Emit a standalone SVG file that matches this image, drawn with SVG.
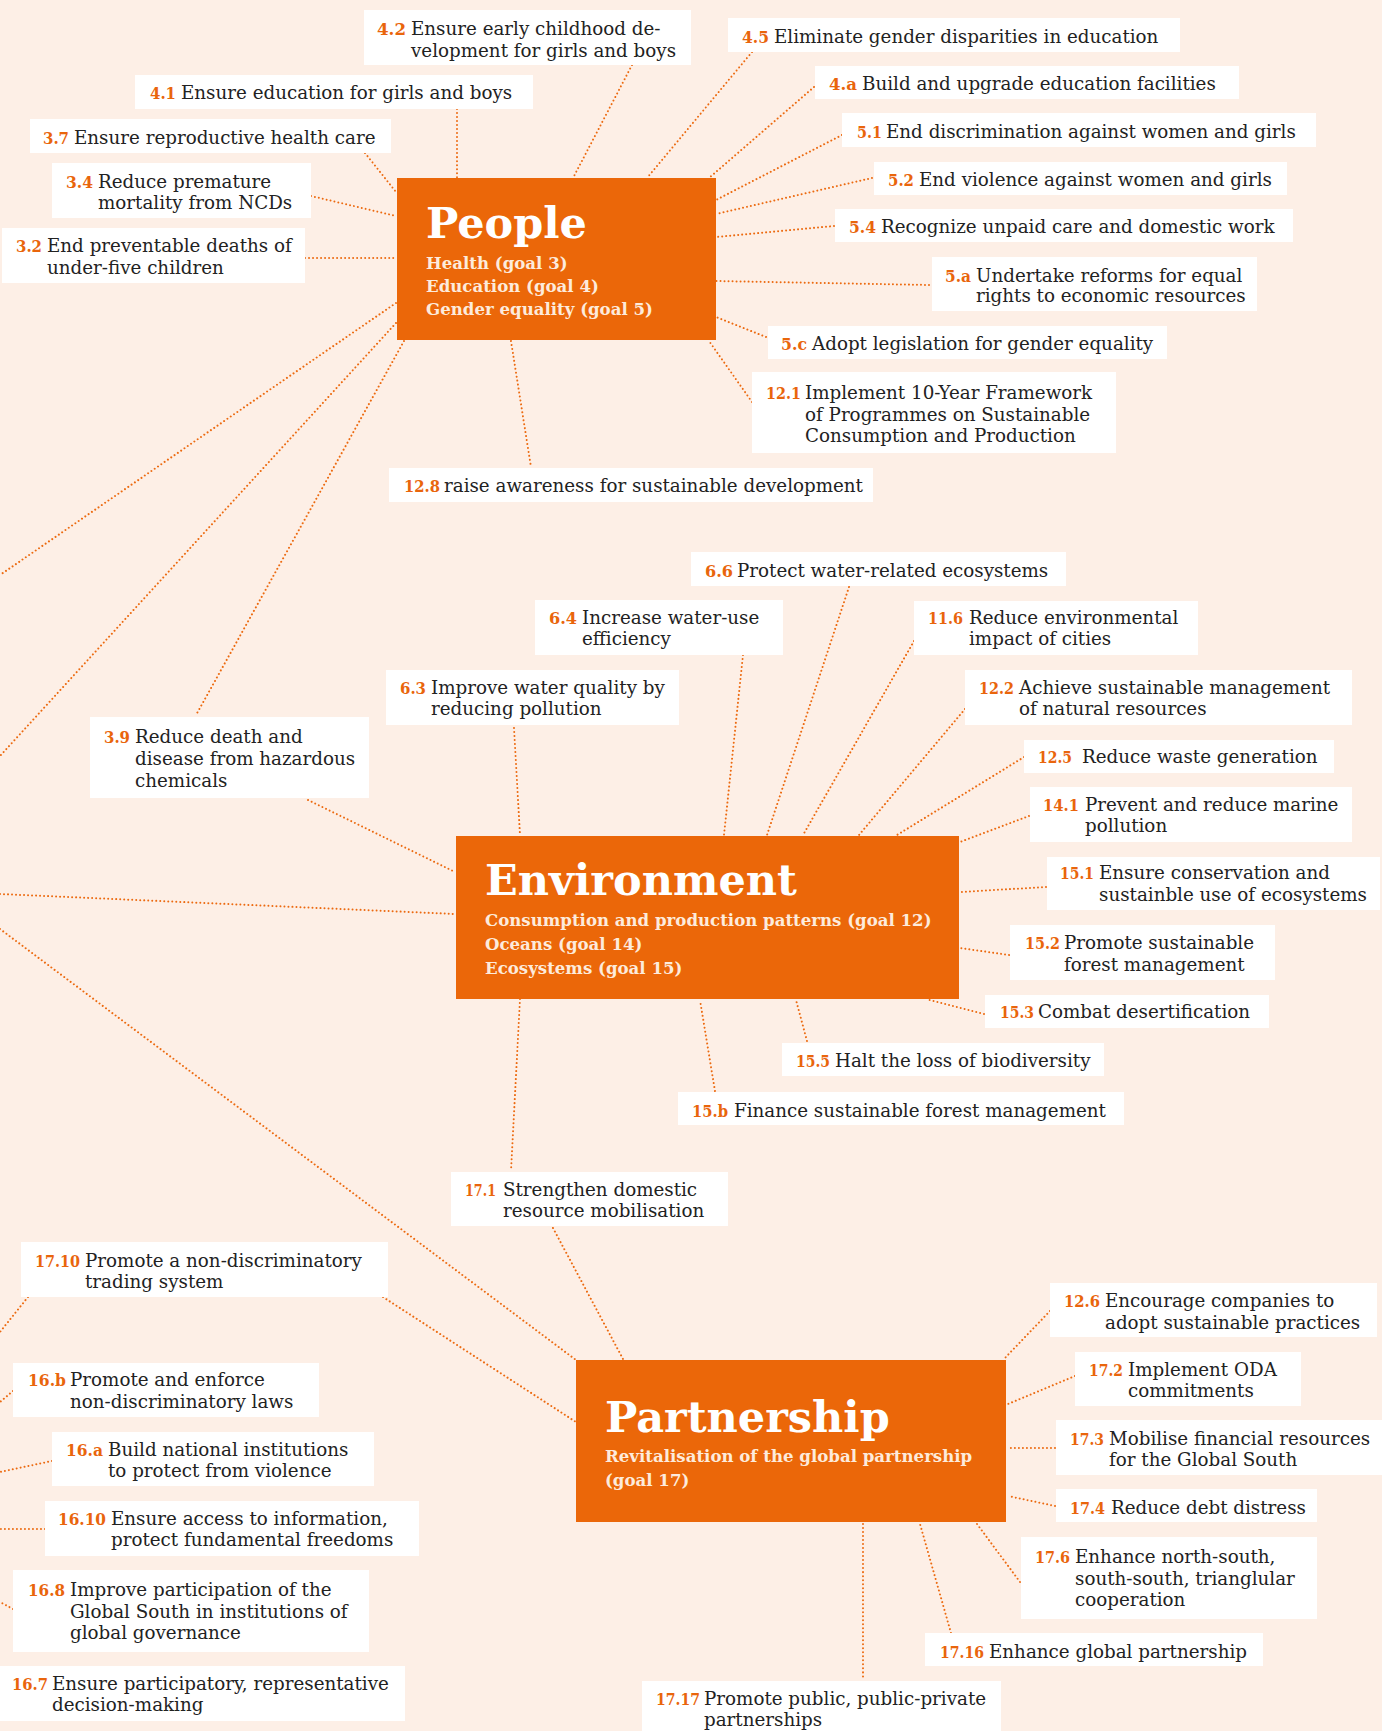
<svg xmlns="http://www.w3.org/2000/svg" width="1382" height="1731" viewBox="0 0 1382 1731">
<style>
.bg{fill:#FDEFE6}
.box{fill:#FFFFFF}
.hub{fill:#EB6709}
text{font-family:"DejaVu Serif","Liberation Serif",serif}
.t{font-size:18.3px;fill:#222222}
.n{font-size:17px;font-weight:bold;fill:#E9650C}
.title{font-size:43px;font-weight:bold;fill:#FFFFFF}
.sub{font-size:16.6px;font-weight:bold;fill:#FDEBDC}
.c line{stroke:#EC6A10;stroke-width:2;stroke-dasharray:0.01 4;stroke-linecap:round;fill:none}
</style>
<rect class="bg" x="0" y="0" width="1382" height="1731"/>

<g id="connectors" class="c">
<line x1="632" y1="65" x2="573" y2="178"/>
<line x1="457" y1="109" x2="457" y2="178"/>
<line x1="365" y1="153" x2="396" y2="192"/>
<line x1="311" y1="196" x2="396" y2="216"/>
<line x1="305" y1="258" x2="396" y2="258"/>
<line x1="396" y1="303" x2="0" y2="575"/>
<line x1="396" y1="323" x2="0" y2="756"/>
<line x1="404" y1="341" x2="196" y2="715"/>
<line x1="511" y1="341" x2="531" y2="467"/>
<line x1="752" y1="52" x2="647" y2="178"/>
<line x1="814" y1="87" x2="709" y2="178"/>
<line x1="842" y1="135" x2="716" y2="200"/>
<line x1="872" y1="178" x2="716" y2="214"/>
<line x1="834" y1="226" x2="716" y2="237"/>
<line x1="929" y1="285" x2="716" y2="281"/>
<line x1="766" y1="337" x2="716" y2="317"/>
<line x1="752" y1="402" x2="709" y2="341"/>
<line x1="514" y1="728" x2="520" y2="835"/>
<line x1="743" y1="655" x2="724" y2="835"/>
<line x1="849" y1="587" x2="767" y2="835"/>
<line x1="914" y1="641" x2="803" y2="835"/>
<line x1="965" y1="709" x2="859" y2="835"/>
<line x1="1024" y1="757" x2="897" y2="835"/>
<line x1="1029" y1="816" x2="960" y2="842"/>
<line x1="1046" y1="887" x2="960" y2="892"/>
<line x1="1009" y1="955" x2="960" y2="948"/>
<line x1="984" y1="1014" x2="926" y2="999"/>
<line x1="807" y1="1041" x2="796" y2="1000"/>
<line x1="715" y1="1091" x2="700" y2="1000"/>
<line x1="308" y1="800" x2="455" y2="872"/>
<line x1="0" y1="894" x2="455" y2="914"/>
<line x1="0" y1="929" x2="576" y2="1360"/>
<line x1="520" y1="999" x2="511" y2="1171"/>
<line x1="553" y1="1228" x2="623" y2="1359"/>
<line x1="383" y1="1297" x2="576" y2="1422"/>
<line x1="28" y1="1297" x2="0" y2="1332"/>
<line x1="13" y1="1391" x2="0" y2="1402"/>
<line x1="52" y1="1461" x2="0" y2="1472"/>
<line x1="45" y1="1529" x2="0" y2="1529"/>
<line x1="13" y1="1609" x2="0" y2="1602"/>
<line x1="1050" y1="1311" x2="1004" y2="1359"/>
<line x1="1075" y1="1376" x2="1008" y2="1404"/>
<line x1="1055" y1="1448" x2="1008" y2="1448"/>
<line x1="1055" y1="1506" x2="1008" y2="1496"/>
<line x1="1020" y1="1582" x2="977" y2="1524"/>
<line x1="951" y1="1633" x2="920" y2="1524"/>
<line x1="863" y1="1524" x2="863" y2="1679"/>
</g>

<g id="people">
<rect class="hub" x="397" y="178" width="319" height="162"/>
<text class="title" x="426" y="238">People</text>
<text class="sub"><tspan x="426" y="269">Health (goal 3)</tspan><tspan x="426" y="292">Education (goal 4)</tspan><tspan x="426" y="315">Gender equality (goal 5)</tspan></text>
</g>
<g id="environment">
<rect class="hub" x="456" y="836" width="503" height="163"/>
<text class="title" x="485" y="895">Environment</text>
<text class="sub"><tspan x="485" y="926">Consumption and production patterns (goal 12)</tspan><tspan x="485" y="950">Oceans (goal 14)</tspan><tspan x="485" y="974">Ecosystems (goal 15)</tspan></text>
</g>
<g id="partnership">
<rect class="hub" x="576" y="1360" width="430" height="162"/>
<text class="title" x="605" y="1432">Partnership</text>
<text class="sub"><tspan x="605" y="1462">Revitalisation of the global partnership</tspan><tspan x="605" y="1486">(goal 17)</tspan></text>
</g>

<g id="t4-2"><rect class="box" x="364" y="10" width="327" height="55"/><text class="n" x="377" y="35" textLength="29" lengthAdjust="spacingAndGlyphs">4.2</text><text class="t"><tspan x="411" y="35">Ensure early childhood de-</tspan><tspan x="411" y="57">velopment for girls and boys</tspan></text></g>
<g id="t4-1"><rect class="box" x="135" y="75" width="398" height="34"/><text class="n" x="150" y="99" textLength="26" lengthAdjust="spacingAndGlyphs">4.1</text><text class="t" x="181" y="99">Ensure education for girls and boys</text></g>
<g id="t3-7"><rect class="box" x="30" y="119" width="361" height="34"/><text class="n" x="43" y="144" textLength="26" lengthAdjust="spacingAndGlyphs">3.7</text><text class="t" x="74" y="144">Ensure reproductive health care</text></g>
<g id="t3-4"><rect class="box" x="52" y="163" width="259" height="55"/><text class="n" x="66" y="188" textLength="27" lengthAdjust="spacingAndGlyphs">3.4</text><text class="t"><tspan x="98" y="188">Reduce premature</tspan><tspan x="98" y="209">mortality from NCDs</tspan></text></g>
<g id="t3-2"><rect class="box" x="2" y="228" width="303" height="55"/><text class="n" x="16" y="252" textLength="26" lengthAdjust="spacingAndGlyphs">3.2</text><text class="t"><tspan x="47" y="252">End preventable deaths of</tspan><tspan x="47" y="274">under-five children</tspan></text></g>
<g id="t12-8"><rect class="box" x="389" y="468" width="484" height="34"/><text class="n" x="404" y="492" textLength="36" lengthAdjust="spacingAndGlyphs">12.8</text><text class="t" x="444" y="492">raise awareness for sustainable development</text></g>
<g id="t4-5"><rect class="box" x="728" y="18" width="452" height="34"/><text class="n" x="742" y="43" textLength="27" lengthAdjust="spacingAndGlyphs">4.5</text><text class="t" x="774" y="43">Eliminate gender disparities in education</text></g>
<g id="t4-a"><rect class="box" x="815" y="66" width="424" height="33"/><text class="n" x="829" y="90" textLength="28" lengthAdjust="spacingAndGlyphs">4.a</text><text class="t" x="862" y="90">Build and upgrade education facilities</text></g>
<g id="t5-1"><rect class="box" x="842" y="113" width="474" height="34"/><text class="n" x="857" y="138" textLength="25" lengthAdjust="spacingAndGlyphs">5.1</text><text class="t" x="886" y="138">End discrimination against women and girls</text></g>
<g id="t5-2"><rect class="box" x="874" y="162" width="413" height="33"/><text class="n" x="888" y="186" textLength="26" lengthAdjust="spacingAndGlyphs">5.2</text><text class="t" x="919" y="186">End violence against women and girls</text></g>
<g id="t5-4"><rect class="box" x="835" y="209" width="458" height="33"/><text class="n" x="849" y="233" textLength="27" lengthAdjust="spacingAndGlyphs">5.4</text><text class="t" x="881" y="233">Recognize unpaid care and domestic work</text></g>
<g id="t5-a"><rect class="box" x="932" y="257" width="325" height="54"/><text class="n" x="945" y="282" textLength="26" lengthAdjust="spacingAndGlyphs">5.a</text><text class="t"><tspan x="976" y="282">Undertake reforms for equal</tspan><tspan x="976" y="302">rights to economic resources</tspan></text></g>
<g id="t5-c"><rect class="box" x="768" y="326" width="399" height="33"/><text class="n" x="781" y="350" textLength="26" lengthAdjust="spacingAndGlyphs">5.c</text><text class="t" x="812" y="350">Adopt legislation for gender equality</text></g>
<g id="t12-1"><rect class="box" x="752" y="372" width="364" height="81"/><text class="n" x="766" y="399" textLength="35" lengthAdjust="spacingAndGlyphs">12.1</text><text class="t"><tspan x="805" y="399">Implement 10-Year Framework</tspan><tspan x="805" y="421">of Programmes on Sustainable</tspan><tspan x="805" y="442">Consumption and Production</tspan></text></g>
<g id="t3-9"><rect class="box" x="90" y="717" width="279" height="81"/><text class="n" x="104" y="743" textLength="26" lengthAdjust="spacingAndGlyphs">3.9</text><text class="t"><tspan x="135" y="743">Reduce death and</tspan><tspan x="135" y="765">disease from hazardous</tspan><tspan x="135" y="787">chemicals</tspan></text></g>
<g id="t6-3"><rect class="box" x="386" y="670" width="293" height="55"/><text class="n" x="400" y="694" textLength="26" lengthAdjust="spacingAndGlyphs">6.3</text><text class="t"><tspan x="431" y="694">Improve water quality by</tspan><tspan x="431" y="715">reducing pollution</tspan></text></g>
<g id="t6-4"><rect class="box" x="535" y="600" width="248" height="55"/><text class="n" x="549" y="624" textLength="28" lengthAdjust="spacingAndGlyphs">6.4</text><text class="t"><tspan x="582" y="624">Increase water-use</tspan><tspan x="582" y="645">efficiency</tspan></text></g>
<g id="t6-6"><rect class="box" x="691" y="552" width="375" height="34"/><text class="n" x="705" y="577" textLength="28" lengthAdjust="spacingAndGlyphs">6.6</text><text class="t" x="737" y="577">Protect water-related ecosystems</text></g>
<g id="t11-6"><rect class="box" x="914" y="601" width="284" height="54"/><text class="n" x="928" y="624" textLength="35" lengthAdjust="spacingAndGlyphs">11.6</text><text class="t"><tspan x="969" y="624">Reduce environmental</tspan><tspan x="969" y="645">impact of cities</tspan></text></g>
<g id="t12-2"><rect class="box" x="965" y="670" width="387" height="55"/><text class="n" x="979" y="694" textLength="35" lengthAdjust="spacingAndGlyphs">12.2</text><text class="t"><tspan x="1019" y="694">Achieve sustainable management</tspan><tspan x="1019" y="715">of natural resources</tspan></text></g>
<g id="t12-5"><rect class="box" x="1024" y="740" width="310" height="33"/><text class="n" x="1038" y="763" textLength="34" lengthAdjust="spacingAndGlyphs">12.5</text><text class="t" x="1082" y="763">Reduce waste generation</text></g>
<g id="t14-1"><rect class="box" x="1030" y="787" width="322" height="55"/><text class="n" x="1043" y="811" textLength="36" lengthAdjust="spacingAndGlyphs">14.1</text><text class="t"><tspan x="1085" y="811">Prevent and reduce marine</tspan><tspan x="1085" y="832">pollution</tspan></text></g>
<g id="t15-1"><rect class="box" x="1047" y="857" width="333" height="53"/><text class="n" x="1060" y="879" textLength="34" lengthAdjust="spacingAndGlyphs">15.1</text><text class="t"><tspan x="1099" y="879">Ensure conservation and</tspan><tspan x="1099" y="901">sustainble use of ecosystems</tspan></text></g>
<g id="t15-2"><rect class="box" x="1010" y="925" width="265" height="55"/><text class="n" x="1025" y="949" textLength="35" lengthAdjust="spacingAndGlyphs">15.2</text><text class="t"><tspan x="1064" y="949">Promote sustainable</tspan><tspan x="1064" y="971">forest management</tspan></text></g>
<g id="t15-3"><rect class="box" x="985" y="995" width="284" height="33"/><text class="n" x="1000" y="1018" textLength="34" lengthAdjust="spacingAndGlyphs">15.3</text><text class="t" x="1038" y="1018">Combat desertification</text></g>
<g id="t15-5"><rect class="box" x="782" y="1043" width="322" height="33"/><text class="n" x="796" y="1067" textLength="34" lengthAdjust="spacingAndGlyphs">15.5</text><text class="t" x="835" y="1067">Halt the loss of biodiversity</text></g>
<g id="t15-b"><rect class="box" x="678" y="1092" width="446" height="33"/><text class="n" x="692" y="1117" textLength="36" lengthAdjust="spacingAndGlyphs">15.b</text><text class="t" x="734" y="1117">Finance sustainable forest management</text></g>
<g id="t17-1"><rect class="box" x="451" y="1172" width="277" height="54"/><text class="n" x="465" y="1196" textLength="31" lengthAdjust="spacingAndGlyphs">17.1</text><text class="t"><tspan x="503" y="1196">Strengthen domestic</tspan><tspan x="503" y="1217">resource mobilisation</tspan></text></g>
<g id="t17-10"><rect class="box" x="21" y="1242" width="367" height="55"/><text class="n" x="35" y="1267" textLength="45" lengthAdjust="spacingAndGlyphs">17.10</text><text class="t"><tspan x="85" y="1267">Promote a non-discriminatory</tspan><tspan x="85" y="1288">trading system</tspan></text></g>
<g id="t16-b"><rect class="box" x="13" y="1363" width="306" height="54"/><text class="n" x="28" y="1386" textLength="38" lengthAdjust="spacingAndGlyphs">16.b</text><text class="t"><tspan x="70" y="1386">Promote and enforce</tspan><tspan x="70" y="1408">non-discriminatory laws</tspan></text></g>
<g id="t16-a"><rect class="box" x="52" y="1432" width="322" height="54"/><text class="n" x="66" y="1456" textLength="37" lengthAdjust="spacingAndGlyphs">16.a</text><text class="t"><tspan x="108" y="1456">Build national institutions</tspan><tspan x="108" y="1477">to protect from violence</tspan></text></g>
<g id="t16-10"><rect class="box" x="45" y="1501" width="374" height="55"/><text class="n" x="58" y="1525" textLength="48" lengthAdjust="spacingAndGlyphs">16.10</text><text class="t"><tspan x="111" y="1525">Ensure access to information,</tspan><tspan x="111" y="1546">protect fundamental freedoms</tspan></text></g>
<g id="t16-8"><rect class="box" x="13" y="1570" width="356" height="82"/><text class="n" x="28" y="1596" textLength="37" lengthAdjust="spacingAndGlyphs">16.8</text><text class="t"><tspan x="70" y="1596">Improve participation of the</tspan><tspan x="70" y="1618">Global South in institutions of</tspan><tspan x="70" y="1639">global governance</tspan></text></g>
<g id="t16-7"><rect class="box" x="0" y="1666" width="405" height="55"/><text class="n" x="12" y="1690" textLength="36" lengthAdjust="spacingAndGlyphs">16.7</text><text class="t"><tspan x="52" y="1690">Ensure participatory, representative</tspan><tspan x="52" y="1711">decision-making</tspan></text></g>
<g id="t12-6"><rect class="box" x="1050" y="1283" width="327" height="54"/><text class="n" x="1064" y="1307" textLength="36" lengthAdjust="spacingAndGlyphs">12.6</text><text class="t"><tspan x="1105" y="1307">Encourage companies to</tspan><tspan x="1105" y="1329">adopt sustainable practices</tspan></text></g>
<g id="t17-2"><rect class="box" x="1075" y="1352" width="226" height="54"/><text class="n" x="1089" y="1376" textLength="34" lengthAdjust="spacingAndGlyphs">17.2</text><text class="t"><tspan x="1128" y="1376">Implement ODA</tspan><tspan x="1128" y="1397">commitments</tspan></text></g>
<g id="t17-3"><rect class="box" x="1056" y="1420" width="326" height="55"/><text class="n" x="1070" y="1445" textLength="34" lengthAdjust="spacingAndGlyphs">17.3</text><text class="t"><tspan x="1109" y="1445">Mobilise financial resources</tspan><tspan x="1109" y="1466">for the Global South</tspan></text></g>
<g id="t17-4"><rect class="box" x="1056" y="1489" width="261" height="33"/><text class="n" x="1070" y="1514" textLength="35" lengthAdjust="spacingAndGlyphs">17.4</text><text class="t" x="1111" y="1514">Reduce debt distress</text></g>
<g id="t17-6"><rect class="box" x="1021" y="1537" width="296" height="82"/><text class="n" x="1035" y="1563" textLength="35" lengthAdjust="spacingAndGlyphs">17.6</text><text class="t"><tspan x="1075" y="1563">Enhance north-south,</tspan><tspan x="1075" y="1585">south-south, trianglular</tspan><tspan x="1075" y="1606">cooperation</tspan></text></g>
<g id="t17-16"><rect class="box" x="925" y="1633" width="338" height="33"/><text class="n" x="940" y="1658" textLength="44" lengthAdjust="spacingAndGlyphs">17.16</text><text class="t" x="989" y="1658">Enhance global partnership</text></g>
<g id="t17-17"><rect class="box" x="642" y="1681" width="359" height="50"/><text class="n" x="656" y="1705" textLength="44" lengthAdjust="spacingAndGlyphs">17.17</text><text class="t"><tspan x="704" y="1705">Promote public, public-private</tspan><tspan x="704" y="1726">partnerships</tspan></text></g>
</svg>
